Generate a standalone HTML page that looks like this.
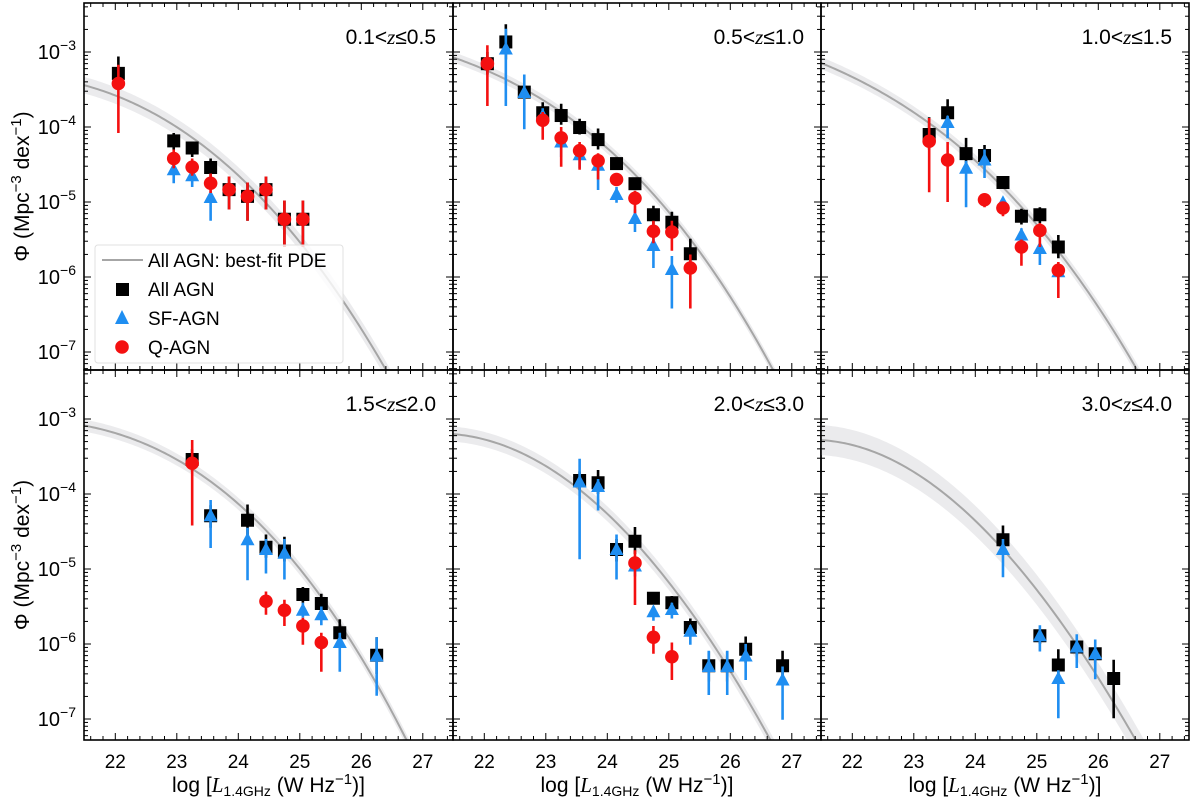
<!DOCTYPE html>
<html><head><meta charset="utf-8"><style>
html,body{margin:0;padding:0;background:#fff;overflow:hidden;width:1200px;height:808px}
svg{display:block;font-family:"Liberation Sans",Arial,sans-serif;overflow:hidden}
</style></head><body>
<svg id="chart" width="1200" height="808" viewBox="0 0 1200 808" xmlns="http://www.w3.org/2000/svg"></svg>
<script>
const panelLabels = ["0.1", "0.5", "1.0", "1.5", "2.0", "3.0"];
const panelLabelsHi = ["0.5", "1.0", "1.5", "2.0", "3.0", "4.0"];
const xTicks = [22, 23, 24, 25, 26, 27];
const yTicks = [-3, -4, -5, -6, -7];

const allX = [[22.05,22.95,23.25,23.55,23.85,24.15,24.45,24.75,25.05],[22.05,22.35,22.65,22.95,23.25,23.55,23.85,24.15,24.45,24.75,25.05,25.35],[23.25,23.55,23.85,24.15,24.45,24.75,25.05,25.35],[23.25,23.55,24.15,24.45,24.75,25.05,25.35,25.65,26.25],[23.55,23.85,24.15,24.45,24.75,25.05,25.35,25.65,25.95,26.25,26.85],[24.45,25.05,25.35,25.65,25.95,26.25]];
const allY = [[-3.285,-4.185,-4.28,-4.54,-4.835,-4.925,-4.835,-5.23,-5.23],[-3.156,-2.866,-3.535,-3.81,-3.847,-4.007,-4.168,-4.488,-4.756,-5.17,-5.27,-5.69],[-4.10,-3.81,-4.355,-4.38,-4.74,-5.19,-5.17,-5.60],[-3.54,-4.29,-4.35,-4.71,-4.76,-5.34,-5.46,-5.85,-6.15],[-3.82,-3.85,-4.74,-4.63,-5.39,-5.45,-5.78,-6.29,-6.29,-6.07,-6.29],[-4.61,-5.89,-6.28,-6.04,-6.13,-6.46]];
const allHi = [[-3.06,-4.08,-4.20,-4.42,-4.66,-4.74,-4.66,-4.98,-4.98],[-3.0,-2.63,-3.45,-3.67,-3.69,-3.89,-4.02,-4.42,-4.68,-5.05,-5.13,-5.49],[-3.87,-3.63,-4.145,-4.24,-4.66,-5.09,-5.07,-5.44],[-3.4,-4.15,-4.14,-4.54,-4.57,-5.24,-5.33,-5.67,-5.91],[-3.7,-3.68,-4.6,-4.44,-5.33,-5.36,-5.66,-6.1,-6.1,-5.90,-6.09],[-4.42,-5.8,-6.07,-5.95,-6.05,-6.21]];
const allLo = [[-3.5,-4.3,-4.4,-4.7,-5.1,-5.25,-5.1,-5.6,-5.6],[-3.3,-3.1,-3.62,-3.92,-3.97,-4.1,-4.3,-4.56,-4.84,-5.3,-5.45,-5.9],[-4.3,-3.95,-4.5,-4.5,-4.82,-5.3,-5.28,-5.75],[-3.7,-4.45,-4.6,-4.85,-4.9,-5.45,-5.6,-6.05,-6.4],[-3.95,-4.0,-4.9,-4.8,-5.45,-5.55,-5.9,-6.5,-6.5,-6.25,-6.5],[-4.75,-6.0,-6.45,-6.15,-6.25,-6.99]];

const sfX = [[22.95,23.25,23.55],[22.35,22.65,22.95,23.25,23.55,23.85,24.15,24.45,24.75,25.05],[23.55,23.85,24.15,24.45,24.75,25.05,25.35],[23.55,24.15,24.45,24.75,25.05,25.35,25.65,26.25],[23.55,23.85,24.15,24.45,24.75,25.05,25.35,25.65,25.95,26.25,26.85],[24.45,25.05,25.35,25.65,25.95]];
const sfY = [[-4.57,-4.65,-4.94],[-2.96,-3.54,-3.85,-4.2,-4.37,-4.51,-4.9,-5.22,-5.58,-5.9],[-3.94,-4.55,-4.44,-5.01,-5.44,-5.62,-5.93],[-4.29,-4.61,-4.74,-4.79,-5.55,-5.61,-5.98,-6.16],[-3.84,-3.90,-4.74,-4.96,-5.57,-5.54,-5.83,-6.30,-6.30,-6.16,-6.48],[-4.74,-5.89,-6.46,-6.04,-6.13]];
const sfHi = [[-4.5,-4.58,-4.85],[-2.69,-3.30,-3.75,-4.1,-4.25,-4.42,-4.8,-5.1,-5.45,-5.72],[-3.85,-4.45,-4.3,-4.95,-5.35,-5.55,-5.85],[-4.08,-4.45,-4.6,-4.6,-5.45,-5.5,-5.85,-5.91],[-3.53,-3.8,-4.54,-4.85,-5.5,-5.45,-5.75,-6.09,-6.09,-6.0,-6.3],[-4.6,-5.75,-6.35,-5.87,-5.94]];
const sfLo = [[-4.75,-4.8,-5.25],[-3.72,-4.03,-4.0,-4.4,-4.55,-4.84,-5.01,-5.40,-5.88,-6.42],[-4.15,-5.07,-4.68,-5.1,-5.55,-5.84,-6.0],[-4.72,-5.15,-5.06,-5.14,-5.65,-5.75,-6.37,-6.69],[-4.87,-4.22,-5.14,-5.1,-5.69,-5.66,-6.01,-6.68,-6.68,-6.48,-7.01],[-5.11,-6.10,-6.99,-6.32,-6.47]];

const qX = [[22.05,22.95,23.25,23.55,23.85,24.15,24.45,24.75,25.05],[22.05,22.95,23.25,23.55,23.85,24.15,24.45,24.75,25.05,25.35],[23.25,23.55,24.15,24.45,24.75,25.05,25.35],[23.25,24.45,24.75,25.05,25.35],[24.45,24.75,25.05],[]];
const qY = [[-3.42,-4.42,-4.535,-4.75,-4.835,-4.925,-4.835,-5.23,-5.23],[-3.156,-3.91,-4.145,-4.315,-4.45,-4.70,-4.95,-5.39,-5.40,-5.88],[-4.19,-4.44,-4.97,-5.08,-5.60,-5.38,-5.91],[-3.59,-5.43,-5.55,-5.76,-5.98],[-4.92,-5.91,-6.17],[]];
const qHi = [[-3.17,-4.3,-4.42,-4.62,-4.66,-4.74,-4.66,-4.98,-4.98],[-2.91,-3.8,-4.0,-4.2,-4.35,-4.62,-4.85,-5.25,-5.25,-5.7],[-3.88,-4.2,-4.9,-5.0,-5.5,-5.28,-5.8],[-3.28,-5.30,-5.41,-5.65,-5.85],[-4.75,-5.76,-5.98],[]];
const qLo = [[-4.08,-4.55,-4.65,-4.88,-5.1,-5.25,-5.1,-5.6,-5.6],[-3.72,-4.17,-4.53,-4.57,-4.70,-4.78,-5.15,-5.55,-5.65,-6.42],[-4.87,-5.00,-5.07,-5.19,-5.85,-5.6,-6.28],[-4.42,-5.61,-5.76,-6.01,-6.37],[-5.48,-6.13,-6.48],[]];

const fitX = [[21.5,22,22.95,23.55,24.45,25.27,26.43],[21.5,22.05,22.65,23.25,23.85,24.45,25.05,25.65,26.25,26.7],[21.5,22,23.25,23.85,24.45,25.05,25.65,26.25,26.64],[21.5,22,23,24,24.5,25,25.5,26,26.5,26.75],[21.5,22,23,24,24.5,25,25.5,26,26.5,26.66],[21.5,22,23,24,24.5,25,25.5,26,26.5,26.6]];
const fitY = [[-3.40,-3.63,-4.03,-4.32,-4.82,-6.0,-7.24],[-3.05,-3.27,-3.53,-3.81,-4.12,-4.61,-5.19,-5.9,-6.57,-7.24],[-3.14,-3.34,-3.99,-4.30,-4.79,-5.33,-6.04,-6.71,-7.24],[-3.05,-3.23,-3.59,-4.10,-4.43,-5.01,-5.59,-6.26,-6.88,-7.28],[-3.16,-3.32,-3.68,-4.21,-4.61,-5.19,-5.77,-6.44,-7.06,-7.24],[-3.23,-3.41,-3.77,-4.25,-4.70,-5.37,-5.86,-6.50,-7.11,-7.24]];
const fitBand = [0.11, 0.07, 0.08, 0.08, 0.1, 0.2];

const NS = "http://www.w3.org/2000/svg";
const svg = document.getElementById("chart");
function mk(tag, attrs, parent) {
  const e = document.createElementNS(NS, tag);
  for (const k in attrs) e.setAttribute(k, attrs[k]);
  (parent || svg).appendChild(e);
  return e;
}
const lefts = [84, 453, 821], tops = [3, 370], bottoms = [370, 740], rights = [453, 821, 1189];
const BLUE = "#1f8ef1", RED = "#f41010";

function polyfit(X, Y, deg) {
  const n = deg + 1, A = [], b = [];
  for (let i = 0; i < n; i++) { A.push(new Array(n).fill(0)); b.push(0); }
  const x0 = 24;
  X.forEach((xv, k) => {
    const t = xv - x0;
    for (let i = 0; i < n; i++) {
      b[i] += Y[k] * Math.pow(t, i);
      for (let j = 0; j < n; j++) A[i][j] += Math.pow(t, i + j);
    }
  });
  for (let i = 0; i < n; i++) {
    let p = i; for (let r = i + 1; r < n; r++) if (Math.abs(A[r][i]) > Math.abs(A[p][i])) p = r;
    [A[i], A[p]] = [A[p], A[i]]; [b[i], b[p]] = [b[p], b[i]];
    for (let r = i + 1; r < n; r++) {
      const f = A[r][i] / A[i][i];
      for (let c = i; c < n; c++) A[r][c] -= f * A[i][c];
      b[r] -= f * b[i];
    }
  }
  const c = new Array(n).fill(0);
  for (let i = n - 1; i >= 0; i--) {
    let s = b[i]; for (let j = i + 1; j < n; j++) s -= A[i][j] * c[j];
    c[i] = s / A[i][i];
  }
  return x => { let s = 0; for (let i = 0; i < n; i++) s += c[i] * Math.pow(x - x0, i); return s; };
}

for (let p = 0; p < 6; p++) {
  const col = p % 3, row = Math.floor(p / 3);
  const L = lefts[col], T = tops[row], B = bottoms[row], R = rights[col];
  const xs = v => L + 31.3 + (v - 22) * 61.5;
  const ys = v => T + 49 + (-3 - v) * 75;
  const cl = y => Math.max(T - 2, Math.min(B + 2, y));
  const g = mk("g", {});
  
  
  const clip = mk("clipPath", { id: "clip" + p }, g);
  mk("rect", { x: L, y: T, width: R - L, height: B - T }, clip);
  const plot = mk("g", { "clip-path": "url(#clip" + p + ")" }, g);

  const f = polyfit(fitX[p], fitY[p], 3);
  const up = [], dn = [], mid = [];
  for (let x = 21.48; x <= 27.52; x += 0.04) {
    const X = xs(x).toFixed(2);
    mid.push(X + "," + cl(ys(f(x))).toFixed(2));
    up.push(X + "," + cl(ys(f(x) + fitBand[p])).toFixed(2));
    dn.unshift(X + "," + cl(ys(f(x) - fitBand[p])).toFixed(2));
  }
  const band = mk("polygon", { points: up.concat(dn).join(" "), fill: "#ebebed", stroke: "none" }, plot);
  
  
  const fit = mk("polyline", { points: mid.join(" "), fill: "none", stroke: "#a6a6a6", "stroke-width": 2 }, plot);
  
  

  function series(X, Y, Hi, Lo, color, shape, name) {
    const sg = mk("g", {}, plot);
    
    
    for (let i = 0; i < X.length; i++) {
      const cx = xs(X[i]), cy = ys(Y[i]);
      mk("line", { x1: cx, x2: cx, y1: cl(ys(Hi[i])), y2: cl(ys(Lo[i])), stroke: color, "stroke-width": 2.6 }, sg);
      let m;
      if (shape === "sq") m = mk("rect", { x: cx - 6.5, y: cy - 6.5, width: 13, height: 13, fill: color }, sg);
      else if (shape === "tri") m = mk("polygon", { points: `${cx},${cy - 7.5} ${cx - 7},${cy + 5.5} ${cx + 7},${cy + 5.5}`, fill: color }, sg);
      else m = mk("circle", { cx: cx, cy: cy, r: 6.8, fill: color }, sg);
      
      
    }
  }
  series(allX[p], allY[p], allHi[p], allLo[p], "#000", "sq", "all-agn");
  series(sfX[p], sfY[p], sfHi[p], sfLo[p], BLUE, "tri", "sf-agn");
  series(qX[p], qY[p], qHi[p], qLo[p], RED, "circ", "q-agn");

  const fr = mk("rect", { x: L, y: T, width: R - L, height: B - T, fill: "none", stroke: "#000", "stroke-width": 1.6 }, g);
  
  
  for (let v = 21.6; v <= 27.45; v += 0.2) {
    const major = Math.abs(v - Math.round(v)) < 0.01;
    const len = major ? 7 : 4, x = xs(v);
    mk("line", { x1: x, x2: x, y1: B, y2: B - len, stroke: "#000", "stroke-width": 1 }, g);
    mk("line", { x1: x, x2: x, y1: T, y2: T + len, stroke: "#000", "stroke-width": 1 }, g);
  }
  for (let e = -8; e <= -2; e++) {
    for (let k = 1; k <= 9; k++) {
      const y = ys(e + Math.log10(k));
      if (y < T + 1 || y > B - 1) continue;
      const len = k === 1 ? 7 : 4;
      mk("line", { x1: L, x2: L + len, y1: y, y2: y, stroke: "#000", "stroke-width": 1 }, g);
      mk("line", { x1: R, x2: R - len, y1: y, y2: y, stroke: "#000", "stroke-width": 1 }, g);
    }
  }
  const lab = mk("text", { x: R - 17, y: T + 41, "text-anchor": "end", "font-size": 21, fill: "#000" }, g);
  lab.innerHTML = panelLabels[p] + '&lt;<tspan font-style="italic" font-family="Liberation Serif">z</tspan>≤' + panelLabelsHi[p];
  
  
  if (col === 0) {
    for (const v of yTicks) {
      const t = mk("text", { x: 76, y: ys(v) + 7, "text-anchor": "end", "font-size": 20 }, g);
      t.innerHTML = '10<tspan dy="-9" font-size="14">−' + (-v) + '</tspan>';
      
      
    }
    const yl = mk("text", { transform: `translate(29,${(T + B) / 2}) rotate(-90)`, "text-anchor": "middle", "font-size": 21 }, g);
    yl.innerHTML = 'Φ (Mpc<tspan dy="-8" font-size="15">−3</tspan><tspan dy="8"> dex</tspan><tspan dy="-8" font-size="15">−1</tspan><tspan dy="8">)</tspan>';
    
    
  }
  if (row === 1) {
    for (const v of xTicks) {
      const t = mk("text", { x: xs(v), y: 768, "text-anchor": "middle", "font-size": 19 }, g);
      t.textContent = v;
      
      
    }
    const xl = mk("text", { x: (L + R) / 2, y: 792, "text-anchor": "middle", "font-size": 21 }, g);
    xl.innerHTML = 'log [<tspan font-style="italic" font-family="Liberation Serif">L</tspan><tspan dy="4" font-size="14">1.4GHz</tspan><tspan dy="-4"> (W Hz</tspan><tspan dy="-8" font-size="15">−1</tspan><tspan dy="8">)]</tspan>';
    
    
  }
}

const lg = mk("g", {});


mk("rect", { x: 95, y: 245, width: 248, height: 118, rx: 3, fill: "#fff", "fill-opacity": 0.8, stroke: "#e0e0e0", "stroke-width": 1 }, lg);
mk("line", { x1: 102, x2: 143, y1: 260, y2: 260, stroke: "#a6a6a6", "stroke-width": 2 }, lg);
mk("rect", { x: 116, y: 283, width: 13, height: 13, fill: "#000" }, lg);
mk("polygon", { points: "122,310 115,324 129,324", fill: BLUE }, lg);
mk("circle", { cx: 122, cy: 347, r: 6.8, fill: RED }, lg);
const entries = [["All AGN: best-fit PDE", 267], ["All AGN", 296], ["SF-AGN", 325], ["Q-AGN", 354]];
for (const [t, y] of entries) {
  const e = mk("text", { x: 148, y: y, "font-size": 19 }, lg);
  e.textContent = t;
  
  
}
</script>
</body></html>
